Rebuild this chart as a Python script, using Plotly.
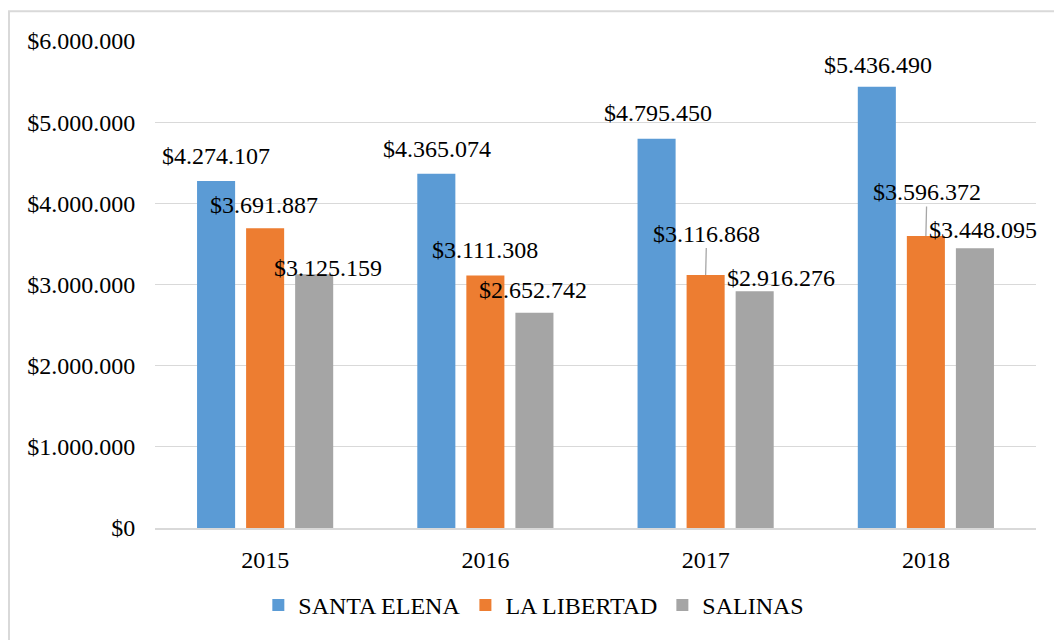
import plotly.graph_objects as go

years = ["2015", "2016", "2017", "2018"]
series_names = ["SANTA ELENA", "LA LIBERTAD", "SALINAS"]
santa_elena = [4274107, 4365074, 4795450, 5436490]
la_libertad = [3691887, 3111308, 3116868, 3596372]
salinas = [3125159, 2652742, 2916276, 3448095]
y_ticks = [0, 1000000, 2000000, 3000000, 4000000, 5000000, 6000000]
y_tick_labels = ["$0", "$1.000.000", "$2.000.000", "$3.000.000",
                 "$4.000.000", "$5.000.000", "$6.000.000"]

colors = ["#5b9bd5", "#ed7d31", "#a5a5a5"]
FONT = "Liberation Serif"
FS = 24

def money(v):
    return "$" + f"{v:,}".replace(",", ".")

all_series = [santa_elena, la_libertad, salinas]

fig = go.Figure()
for name, vals, c in zip(series_names, all_series, colors):
    fig.add_trace(go.Bar(x=years, y=vals, name=name, marker_color=c,
                         marker_line_width=0))

# label placement offsets in pixels (dx, dy) relative to bar top-centre
label_offsets = [
    [(0, 25), (1, 25), (1, 26), (1, 22)],
    [(-1, 23.5), (0, 25), (1, 41.5), (1, 44)],
    [(14, 6), (-1, 23), (26, 13), (8, 18)],
]
leader = [[False] * 4, [False, False, True, True], [False] * 4]
slot = 49

annotations = []
for si, vals in enumerate(all_series):
    for yi, (yr, v) in enumerate(zip(years, vals)):
        dx, dy = label_offsets[si][yi]
        base_shift = (si - 1) * slot
        if leader[si][yi]:
            annotations.append(dict(
                x=yi, y=v, xref="x", yref="y", text=money(v),
                xshift=base_shift, showarrow=True, arrowhead=0,
                arrowwidth=1.3, arrowcolor="#a6a6a6", standoff=0,
                axref="pixel", ayref="pixel",
                ax=dx, ay=-dy, font=dict(family=FONT, size=FS, color="#000")))
        else:
            annotations.append(dict(
                x=yi, y=v, xref="x", yref="y", text=money(v),
                xshift=base_shift + dx, yshift=dy, showarrow=False,
                xanchor="center", yanchor="middle",
                font=dict(family=FONT, size=FS, color="#000")))

fig.update_layout(
    width=1054, height=640,
    margin=dict(l=155, r=18, t=41, b=108),
    paper_bgcolor="white", plot_bgcolor="white",
    barmode="group", bargap=0.332, bargroupgap=0.224,
    font=dict(family=FONT, size=FS, color="#000"),
    showlegend=True,
    legend=dict(orientation="h", x=0.43, xanchor="center", y=-0.159,
                yanchor="middle", font=dict(family=FONT, size=FS)),
    annotations=annotations,
    shapes=[dict(type="rect", xref="paper", yref="paper",
                 x0=-0.1657, x1=1.0227, y0=-0.25, y1=1.0612,
                 line=dict(color="#d9d9d9", width=2), layer="below")],
)
fig.update_yaxes(range=[0, 6000000], tickvals=y_ticks, ticktext=y_tick_labels,
                 showgrid=True, gridcolor="#d9d9d9", gridwidth=1.3,
                 zeroline=False, ticks="outside", ticklen=14,
                 tickcolor="rgba(0,0,0,0)",
                 tickfont=dict(family=FONT, size=FS))
fig.update_xaxes(type="category", range=[-0.5, 3.5], showline=True,
                 linecolor="#d9d9d9", linewidth=1.5, ticks="outside",
                 ticklen=9, tickcolor="rgba(0,0,0,0)",
                 tickfont=dict(family=FONT, size=FS))

fig.write_html("out.html", config={"displayModeBar": False},
               post_script="document.body.style.margin='0';")
